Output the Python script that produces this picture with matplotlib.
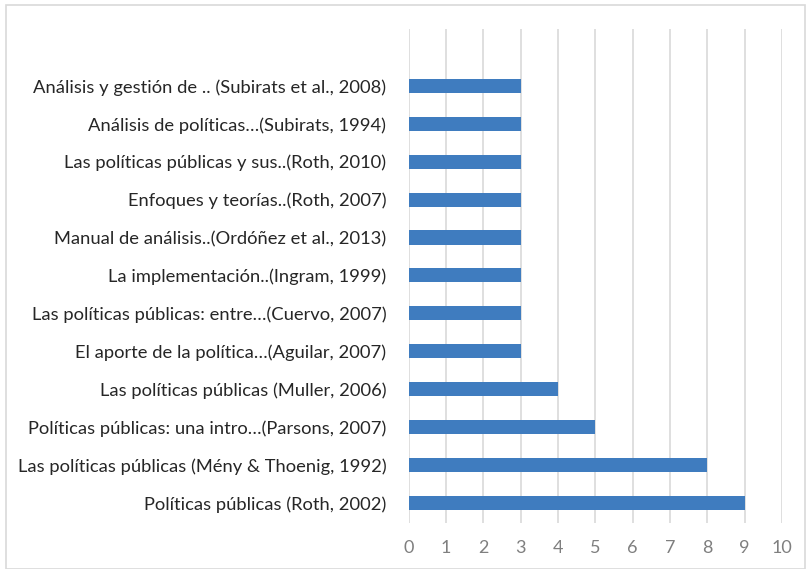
import matplotlib.pyplot as plt
from matplotlib.patches import Rectangle

plt.rcParams['font.family'] = ['Lato', 'DejaVu Sans']

labels = [
    "Políticas públicas (Roth, 2002)",
    "Las políticas públicas (Mény & Thoenig, 1992)",
    "Políticas públicas: una intro…(Parsons, 2007)",
    "Las políticas públicas (Muller, 2006)",
    "El aporte de la política…(Aguilar, 2007)",
    "Las políticas públicas: entre…(Cuervo, 2007)",
    "La implementación..(Ingram, 1999)",
    "Manual de análisis..(Ordóñez et al., 2013)",
    "Enfoques y teorías..(Roth, 2007)",
    "Las políticas públicas y sus..(Roth, 2010)",
    "Análisis de políticas…(Subirats, 1994)",
    "Análisis y gestión de .. (Subirats et al., 2008)",
]
values = [9, 8, 5, 4, 3, 3, 3, 3, 3, 3, 3, 3]
xticks = list(range(0, 11))

fig = plt.figure(figsize=(8.06, 5.69), dpi=100)
ax = fig.add_axes([0.507, 0.0808, 0.463, 0.8683])

pos = list(range(len(labels)))
ax.barh(pos, values, height=0.37, color="#3F7CBF", zorder=3)

ax.set_xlim(0, 10)
ax.set_ylim(-0.53, 12.5)
ax.set_xticks(xticks)
ax.set_yticks(pos)
ax.set_yticklabels(labels, fontsize=13.2, color="#262626")
ax.tick_params(axis='x', labelsize=13, labelcolor="#7F7F7F", length=0, pad=12)
ax.tick_params(axis='y', length=0, pad=16)
ax.grid(axis='x', color="#D9D9D9", lw=1.2, zorder=0)
for s in ax.spines.values():
    s.set_visible(False)

# chart border
fig.patches.append(Rectangle((6 / 806, 0), 799 / 806, 1 - 5 / 569,
                             transform=fig.transFigure, fill=False,
                             edgecolor="#D9D9D9", lw=1.2))

plt.savefig("out.png", dpi=100)
plt.close(fig)
